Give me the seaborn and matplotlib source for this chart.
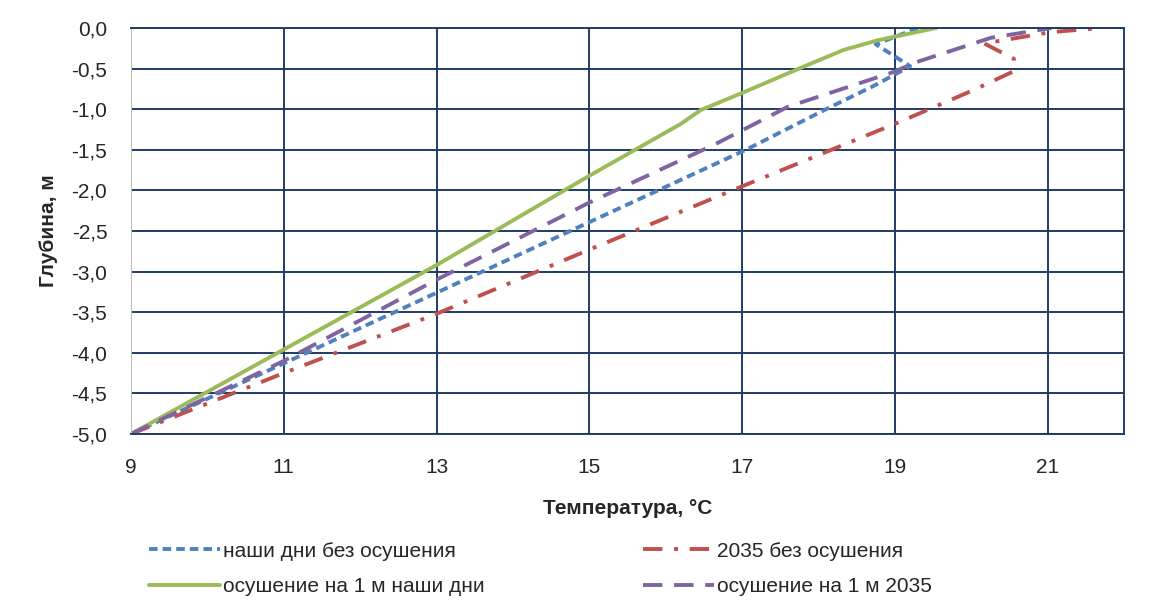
import matplotlib
matplotlib.use("Agg")
import matplotlib.pyplot as plt
import seaborn as sns
import pandas as pd

# данные: температура (°C) и глубина (м)
t_blue = [9.0, 10.15, 11.3, 12.45, 13.6, 14.75, 15.9, 17.05, 18.1, 18.75, 19.2, 18.75, 19.3]
d_blue = [-5.0, -4.5, -4.0, -3.5, -3.0, -2.5, -2.0, -1.5, -1.0, -0.7, -0.47, -0.2, 0.0]

t_red = [9.0, 11.0, 13.0, 15.0, 17.0, 19.08, 20.04, 20.54, 20.56, 20.17, 21.05, 21.7]
d_red = [-5.0, -4.25, -3.52, -2.73, -1.95, -1.15, -0.76, -0.54, -0.38, -0.19, -0.05, 0.0]

t_green = [9.0, 11.0, 13.0, 15.0, 16.2, 16.46, 17.0, 17.77, 18.33, 18.78, 19.54]
d_green = [-5.0, -3.96, -2.92, -1.82, -1.18, -1.01, -0.8, -0.49, -0.27, -0.15, 0.0]

t_purple = [9.0, 11.0, 13.0, 15.0, 16.63, 17.6, 18.99, 19.25, 20.26, 21.05]
d_purple = [-5.0, -4.1, -3.1, -2.15, -1.44, -0.97, -0.54, -0.43, -0.12, 0.0]

labels = ['наши дни без осушения', '2035 без осушения',
          'осушение на 1 м наши дни', 'осушение на 1 м 2035']
x_ticks = [9, 11, 13, 15, 17, 19, 21]
y_ticks = [0.0, -0.5, -1.0, -1.5, -2.0, -2.5, -3.0, -3.5, -4.0, -4.5, -5.0]

sns.set_style('white')
plt.rcParams['font.family'] = ['Liberation Sans', 'DejaVu Sans']

fig = plt.figure(figsize=(11.56, 6.01), dpi=100)
ax = fig.add_axes([0.1133, 0.2779, 0.8590, 0.6755])

series = [
    (t_blue, d_blue, '#4F81BD', (0, (2.2, 1.3))),
    (t_red, d_red, '#C0504D', (0, (5, 3, 1, 3))),
    (t_green, d_green, '#9BBB59', '-'),
    (t_purple, d_purple, '#8064A2', (0, (5, 3))),
]
for (t, d, c, ls), lab in zip(series, labels):
    df = pd.DataFrame({'t': t, 'd': d})
    sns.lineplot(data=df, x='t', y='d', sort=False, estimator=None, ax=ax,
                 color=c, linewidth=2.8, linestyle=ls, label=lab)

ax.set_xlim(9, 22)
ax.set_ylim(-5, 0)
ax.set_xticks(x_ticks)
ax.set_yticks(y_ticks)
ax.set_yticklabels([f'{v:.1f}'.replace('.', ',') for v in y_ticks])
ax.grid(True, color='#1F3B66', linewidth=1.4)
ax.set_axisbelow(True)
for s in ['top', 'right', 'bottom']:
    ax.spines[s].set_color('#1F3B66')
    ax.spines[s].set_linewidth(1.4)
ax.spines['left'].set_color('#BFBFBF')
ax.tick_params(axis='both', labelsize=15, length=0, pad=17)

ax.set_xlabel('Температура, °С', fontsize=15, fontweight='bold', labelpad=16)
ax.set_ylabel('Глубина, м', fontsize=15, fontweight='bold', labelpad=10)

ax.legend_.remove()
h, l = ax.get_legend_handles_labels()
# строки легенды: (синий, красный), (зелёный, фиолетовый)
order = [0, 2, 1, 3]
fig.legend([h[i] for i in order], [l[i] for i in order], loc='upper left',
           bbox_to_anchor=(0.113, 0.13), ncol=2, frameon=False, fontsize=15,
           handlelength=3.4, handletextpad=0.15, columnspacing=7.6,
           labelspacing=0.78)

fig.savefig('out.png', dpi=100)
